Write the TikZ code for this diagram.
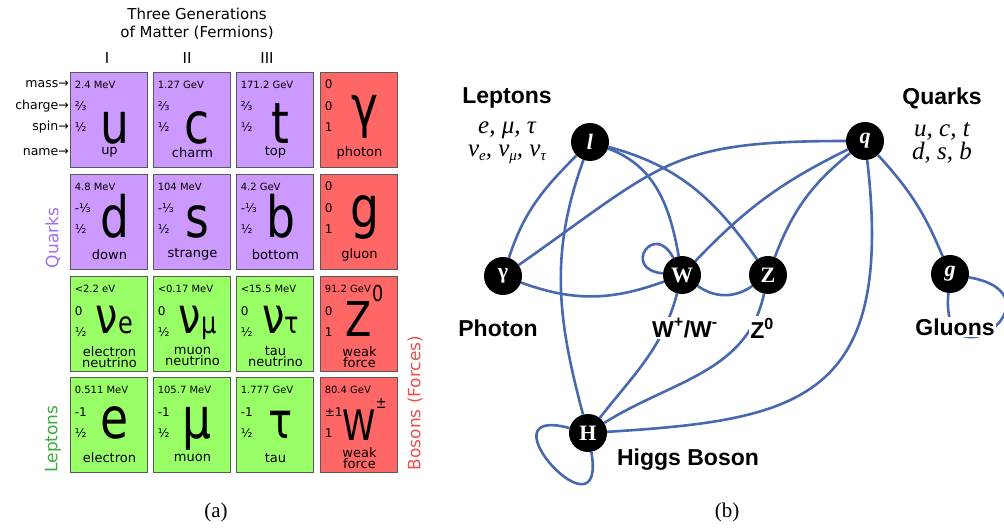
\documentclass[tikz,border=0pt]{standalone}
\usepackage{fontspec}
\setmainfont{Liberation Serif}
\newfontfamily\dejavu{DejaVu Sans}
\newfontfamily\bigsym[FakeStretch=0.8]{DejaVu Sans}
\newfontfamily\arial{Liberation Sans}
\usetikzlibrary{backgrounds}
\definecolor{quarkfill}{RGB}{204,153,255}
\definecolor{leptonfill}{RGB}{153,255,102}
\definecolor{bosonfill}{RGB}{255,102,102}
\definecolor{quarktext}{RGB}{160,110,240}
\definecolor{leptontext}{RGB}{60,170,60}
\definecolor{bosontext}{RGB}{235,80,80}
\definecolor{edgeblue}{RGB}{72,104,176}
\newcommand{\fsz}[1]{\fontsize{#1}{#1}\selectfont}
\newcommand{\lowsub}[1]{\raisebox{-4pt}{\fsz{15}#1}}
\tikzset{
  cell/.style={
    rectangle,
    draw=black!65,
    line width=0.9pt,
    minimum width=77pt,
    minimum height=95pt,
    inner sep=0pt
  },
  massval/.style={anchor=west, inner sep=0pt, font=\dejavu\fsz{10}},
  qnum/.style={anchor=west, inner sep=0pt, font=\dejavu\fsz{12}},
  symbol/.style={anchor=base, inner sep=0pt, font=\bigsym\fsz{57}},
  pname/.style={inner sep=0pt, align=center, font=\dejavu\fontsize{13}{11}\selectfont},
  rowlabel/.style={anchor=east, inner sep=0pt, font=\dejavu\fsz{12.5}},
  sidelabel/.style={rotate=90, inner sep=0pt, font=\dejavu\fsz{17}},
  pnode/.style={
    circle,
    fill=black,
    minimum size=38pt,
    inner sep=0pt,
    text=white,
    font=\bfseries\fsz{22}
  },
  link/.style={edgeblue, line width=2.6pt},
  biglabel/.style={font=\arial\bfseries\fsz{23}, fill=white, inner sep=1.5pt},
  members/.style={align=center, inner sep=0pt, font=\itshape\fontsize{25}{23}\selectfont},
  caption/.style={font=\fsz{21}}
}
\newcommand{\particle}[9][-14]{%
  \node[cell, fill=#4] (#2) at (#3) {};
  \node[massval] (#2-mass) at ([shift={(5,-13)}]#2.north west) {#5};
  \node[qnum] (#2-charge) at ([shift={(5,-35)}]#2.north west) {#6};
  \node[qnum] (#2-spin) at ([shift={(5,-56)}]#2.north west) {#7};
  \node[symbol] (#2-sym) at ([shift={(6,#1)}]#2.center) {#8};
  \node[pname] (#2-name) at ([shift={(1,15)}]#2.south) {#9};
}

\begin{document}
\begin{tikzpicture}[x=1pt,y=1pt]
\useasboundingbox (0,0) rectangle (1004,-529);

\node[align=center, font=\dejavu\fontsize{15}{18}\selectfont] (title) at (197,-24) {Three Generations\\of Matter (Fermions)};
\node[font=\dejavu\fsz{15}] (gen1) at (107,-58) {I};
\node[font=\dejavu\fsz{15}] (gen2) at (187,-58) {II};
\node[font=\dejavu\fsz{15}] (gen3) at (267,-58) {III};

\node[rowlabel] (masslabel) at (69,-84) {mass→};
\node[rowlabel] (chargelabel) at (69,-106) {charge→};
\node[rowlabel] (spinlabel) at (69,-127) {spin→};
\node[rowlabel] (namelabel) at (69,-152) {name→};

\particle[-24]{q-up}{108.5,-119.5}{quarkfill}{2.4 MeV}{⅔}{½}{u}{up}
\particle[-24]{q-charm}{191.5,-119.5}{quarkfill}{1.27 GeV}{⅔}{½}{c}{charm}
\particle[-24]{q-top}{274.5,-119.5}{quarkfill}{171.2 GeV}{⅔}{½}{t}{top}
\particle[-24]{b-photon}{358.5,-119.5}{bosonfill}{\fsz{12}0}{0}{1}{\raisebox{17pt}{γ}}{photon}
\particle[-16]{q-down}{108.5,-221.5}{quarkfill}{4.8 MeV}{-⅓}{½}{d}{down}
\particle[-16]{q-strange}{191.5,-221.5}{quarkfill}{104 MeV}{-⅓}{½}{s}{strange}
\particle[-16]{q-bottom}{274.5,-221.5}{quarkfill}{4.2 GeV}{-⅓}{½}{b}{bottom}
\particle[-16]{b-gluon}{358.5,-221.5}{bosonfill}{\fsz{12}0}{0}{1}{\raisebox{10pt}{g}}{gluon}
\particle[-10]{l-nue}{108.5,-324}{leptonfill}{<2.2 eV}{0}{½}{\fsz{50}ν\fsz{30}e}{electron\\neutrino}
\particle[-10]{l-numu}{191.5,-324}{leptonfill}{<0.17 MeV}{0}{½}{\fsz{50}ν\fsz{30}μ}{muon\\neutrino}
\particle[-10]{l-nutau}{274.5,-324}{leptonfill}{<15.5 MeV}{0}{½}{\fsz{50}ν\fsz{30}τ}{tau\\neutrino}
\particle[-13]{b-z}{358.5,-324}{bosonfill}{91.2 GeV}{0}{1}{\fsz{48}Z\raisebox{35pt}{\fsz{22}0}}{weak\\force}
\particle[-13]{l-electron}{108.5,-425}{leptonfill}{0.511 MeV}{-1}{½}{e}{electron}
\particle[-13]{l-muon}{191.5,-425}{leptonfill}{105.7 MeV}{-1}{½}{μ}{muon}
\particle[-13]{l-tau}{274.5,-425}{leptonfill}{1.777 GeV}{-1}{½}{\fsz{50}τ}{tau}
\particle[-15]{b-w}{358.5,-425}{bosonfill}{80.4 GeV}{±1}{1}{\fsz{42}W\raisebox{32pt}{\fsz{16}±}}{weak\\force}

\node[sidelabel, text=quarktext] (quarkside) at (53,-238) {Quarks};
\node[sidelabel, text=leptontext] (leptonside) at (53,-439) {Leptons};
\node[sidelabel, text=bosontext] (bosonside) at (415,-403) {Bosons (Forces)};

\node[pnode] (lep) at (590,-142) {\textit{l}};
\node[pnode] (qrk) at (865,-141) {\textit{q}};
\node[pnode] (pho) at (503,-276) {γ};
\node[pnode] (wbos) at (682,-275) {W};
\node[pnode] (zbos) at (768,-275) {Z};
\node[pnode] (glu) at (950,-274) {\textit{g}};
\node[pnode] (hig) at (588,-433) {H};

\begin{scope}[on background layer]
\draw[link] (lep) to[out=225, in=72] (pho);
\draw[link] (lep) to[out=250, in=105] (hig);
\draw[link] (lep) to[out=-20, in=100] (wbos);
\draw[link] (lep) to[out=-15, in=125] (zbos);
\draw[link] (qrk) to[out=180, in=35, looseness=1.3] (pho);
\draw[link] (qrk) to[bend right=10] (wbos);
\draw[link] (qrk) to[bend right=15] (zbos);
\draw[link] (qrk) .. controls (895,-400) and (800,-420) .. (hig);
\draw[link] (qrk) to[bend left=10] (glu);
\draw[link] (pho) to[out=-20, in=-160] (wbos);
\draw[link] (wbos) to[bend right=35] (zbos);
\draw[link] (wbos) to[out=-105, in=52] (hig);
\draw[link] (zbos) to[out=-102, in=32] (hig);
\draw[link] (wbos) to[out=117, in=175, min distance=42] (wbos);
\draw[link] (glu) to[out=-95, in=-10, min distance=100] (glu);
\draw[link] (hig) to[out=165, in=-80, min distance=95] (hig);
\end{scope}

\node[biglabel] (leplabel) at (507,-98) {Leptons};
\node[members] (lepmembers) at (507,-143) {e, μ, τ\\ν\lowsub{e}, ν\lowsub{μ}, ν\lowsub{τ}};
\node[biglabel] (qrklabel) at (942,-98) {Quarks};
\node[members] (qrkmembers) at (942,-143) {u, c, t\\d, s, b};
\node[biglabel] (pholabel) at (498,-328) {Photon};
\node[biglabel] (wlabel) at (685,-328) {W\textsuperscript{+}/W\textsuperscript{-}};
\node[biglabel] (zlabel) at (762,-328) {Z\textsuperscript{0}};
\node[biglabel] (glulabel) at (955,-327) {Gluons};
\node[biglabel] (higlabel) at (688,-460) {Higgs Boson};

\node[caption] (capa) at (216,-512) {(a)};
\node[caption] (capb) at (727,-512) {(b)};
\end{tikzpicture}
\end{document}
